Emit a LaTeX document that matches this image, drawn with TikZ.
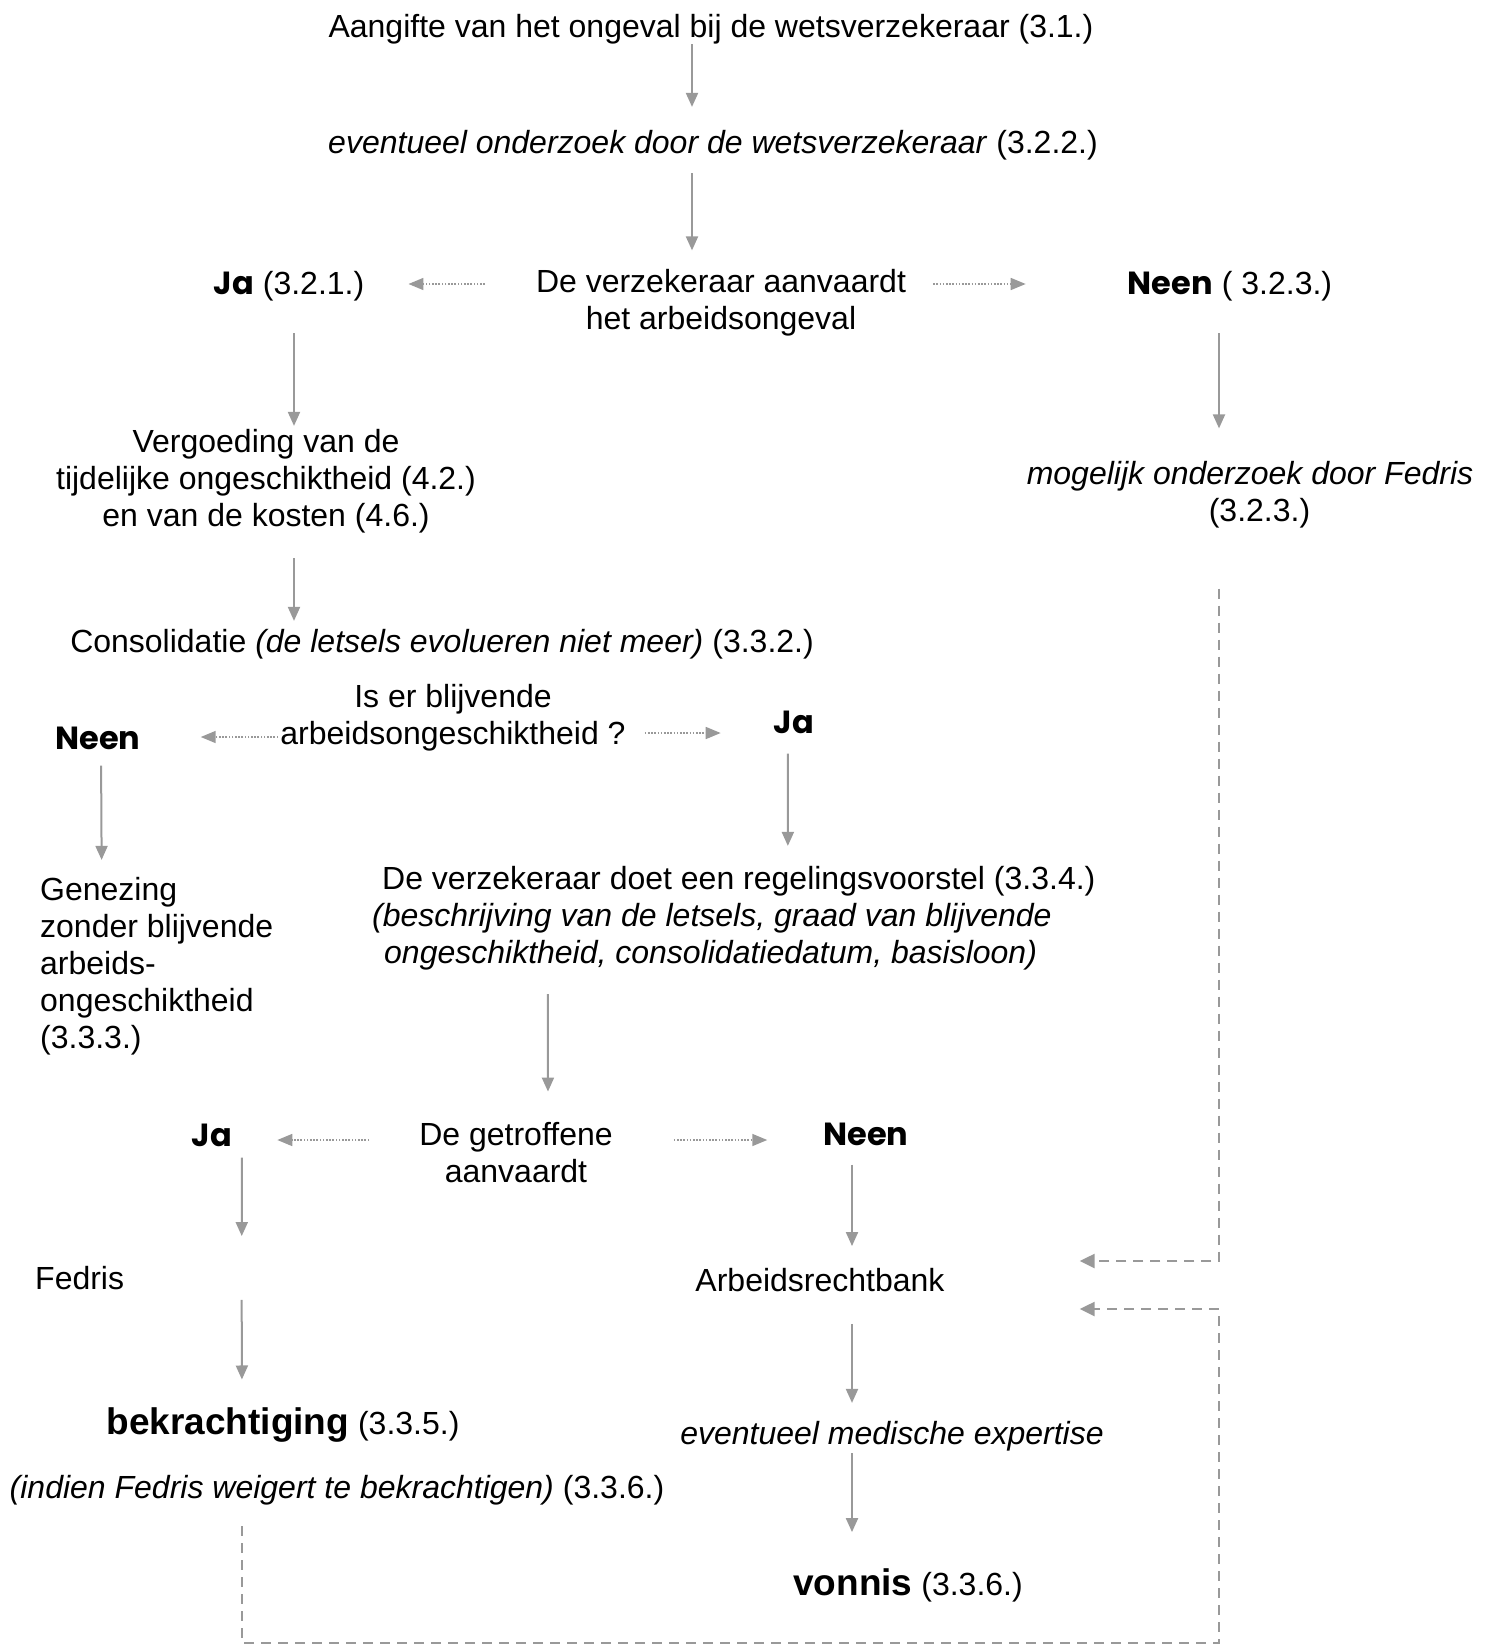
\documentclass[tikz,border=0pt]{standalone}
\usepackage{fontspec}
\setmainfont{Liberation Sans}
\newfontfamily\popfont{Poppins}
\usepackage{xcolor}
\usetikzlibrary{arrows.meta,positioning}
\definecolor{lgray}{HTML}{999999}
\newcommand{\yn}[1]{{\popfont\bfseries #1}}
\newcommand{\grootvet}{\fontsize{37}{40}\selectfont\bfseries}

\begin{document}
\begin{tikzpicture}[x=1pt,y=-1pt,
  font=\fontsize{32}{37}\selectfont,
  txt/.style={inner sep=0pt,align=center},
  arr/.style={-{Triangle[length=14pt,width=12pt]},draw=lgray,line width=2pt},
  dotarr/.style={-{Triangle[length=15pt,width=12pt]},draw=lgray,line width=1.6pt,dash pattern=on 1.6pt off 1.6pt},
  dasharr/.style={-{Triangle[length=15pt,width=14pt]},draw=lgray,line width=2.5pt,dash pattern=on 10pt off 7pt}
]
\useasboundingbox (0,0) rectangle (1491,1644);

\node[txt] (title) at (711,29) {Aangifte van het ongeval bij de wetsverzekeraar (3.1.)};
\node[txt] (eve) at (713,145) {\textit{eventueel onderzoek door de wetsverzekeraar} (3.2.2.)};
\node[txt] (acc) at (721,303) {De verzekeraar aanvaardt\\het arbeidsongeval};
\node[txt] (ja1) at (289,286) {\yn{Ja} (3.2.1.)};
\node[txt] (neen1) at (1230,286) {\yn{Neen} ( 3.2.3.)};
\node[txt] (verg) at (266,481) {Vergoeding van de\\tijdelijke ongeschiktheid (4.2.)\\en van de kosten (4.6.)};
\node[txt] (mog) at (1250,495) {\textit{mogelijk onderzoek door Fedris}\\\hspace*{19pt}(3.2.3.)};
\node[txt] (cons) at (442,644) {Consolidatie \textit{(de letsels evolueren niet meer)} (3.3.2.)};
\node[txt] (vraag) at (453,718) {Is er blijvende\\arbeidsongeschiktheid ?};
\node[txt] (neen2) at (98,738) {\yn{Neen}};
\node[txt] (ja2) at (794,722) {\yn{Ja}};
\node[txt,align=left,anchor=west] (genez) at (40,966) {Genezing\\zonder blijvende\\arbeids-\\ongeschiktheid\\(3.3.3.)};
\node[txt,align=left,anchor=west] (voorstel) at (372,918) {\hspace*{10pt}De verzekeraar doet een regelingsvoorstel (3.3.4.)\\\textit{(beschrijving van de letsels, graad van blijvende}\\\hspace*{12pt}\textit{ongeschiktheid, consolidatiedatum, basisloon)}};
\node[txt] (getr) at (516,1153) {De getroffene\\aanvaardt};
\node[txt] (ja3) at (212,1135) {\yn{Ja}};
\node[txt] (neen3) at (866,1134) {\yn{Neen}};
\node[txt,anchor=west] (fedris) at (35,1278) {Fedris};
\node[txt] (rb) at (820,1280) {Arbeidsrechtbank};
\node[txt] (bek) at (283,1425) {{\grootvet bekrachtiging} (3.3.5.)};
\node[txt] (indien) at (337,1490) {\textit{(indien Fedris weigert te bekrachtigen)} (3.3.6.)};
\node[txt] (med) at (892,1436) {\textit{eventueel medische expertise}};
\node[txt] (vonnis) at (908,1585) {{\grootvet vonnis} (3.3.6.)};
\coordinate (hoek) at (1219,1643);

\draw[arr,shorten <=0pt,shorten >=23pt] ([xshift=-19pt]title.south) -- ([xshift=-21pt]eve.north);
\draw[arr,shorten <=13pt,shorten >=19pt] ([xshift=-21pt]eve.south) -- ([xshift=-29pt]acc.north);
\draw[dotarr,shorten <=51pt,shorten >=44pt] ([yshift=19pt]acc.west) -- ([yshift=2pt]ja1.east);
\draw[dotarr,shorten <=27pt,shorten >=102pt] ([yshift=19pt]acc.east) -- ([yshift=2pt]neen1.west);
\draw[arr,shorten <=32pt,shorten >=3pt] ([xshift=5pt]ja1.south) -- ([xshift=28pt]verg.north);
\draw[arr,shorten <=32pt,shorten >=33pt] ([xshift=-11pt]neen1.south) -- ([xshift=-31pt]mog.north);
\draw[arr,shorten <=25pt,shorten >=8pt] ([xshift=28pt]verg.south) -- ([xshift=-148pt]cons.north);
\draw[dotarr,shorten <=2pt,shorten >=60pt] ([yshift=-19pt]vraag.west) -- ([yshift=1pt]neen2.east);
\draw[dotarr,shorten <=19pt,shorten >=53pt] ([yshift=-15pt]vraag.east) -- ([yshift=-11pt]ja2.west);
\draw[arr,shorten <=16pt,shorten >=17pt] ([xshift=3pt]neen2.south) -- ([xshift=-55pt]genez.north);
\draw[arr,shorten <=20pt,shorten >=20pt] ([xshift=-6pt]ja2.south) -- ([xshift=54pt]voorstel.north);
\draw[arr,shorten <=24pt,shorten >=31pt] ([xshift=-186pt]voorstel.south) -- ([xshift=32pt]getr.north);
\draw[dotarr,shorten <=50pt,shorten >=45pt] ([yshift=13pt]getr.west) -- ([yshift=-5pt]ja3.east);
\draw[dotarr,shorten <=61pt,shorten >=56pt] ([yshift=13pt]getr.east) -- ([yshift=-6pt]neen3.west);
\draw[arr,shorten <=11pt,shorten >=30pt] ([xshift=30pt]ja3.south) -- ([xshift=162pt]fedris.north);
\draw[arr,shorten <=19pt,shorten >=22pt] ([xshift=-14pt]neen3.south) -- ([xshift=32pt]rb.north);
\draw[arr,shorten <=10pt,shorten >=28pt] ([xshift=162pt]fedris.south) -- ([xshift=-41pt]bek.north);
\draw[arr,shorten <=32pt,shorten >=18pt] ([xshift=32pt]rb.south) -- ([xshift=-40pt]med.north);
\draw[arr,shorten <=2pt,shorten >=36pt] ([xshift=-40pt]med.south) -- ([xshift=-56pt]vonnis.north);
\draw[dasharr,shorten <=60pt,shorten >=135pt] ([xshift=-31pt]mog.south) |- ([yshift=19pt]rb.east);
\draw[dasharr,shorten <=21pt,shorten >=135pt] ([xshift=-95pt]indien.south) |- (hoek) |- ([yshift=-29pt]rb.east);
\end{tikzpicture}
\end{document}
